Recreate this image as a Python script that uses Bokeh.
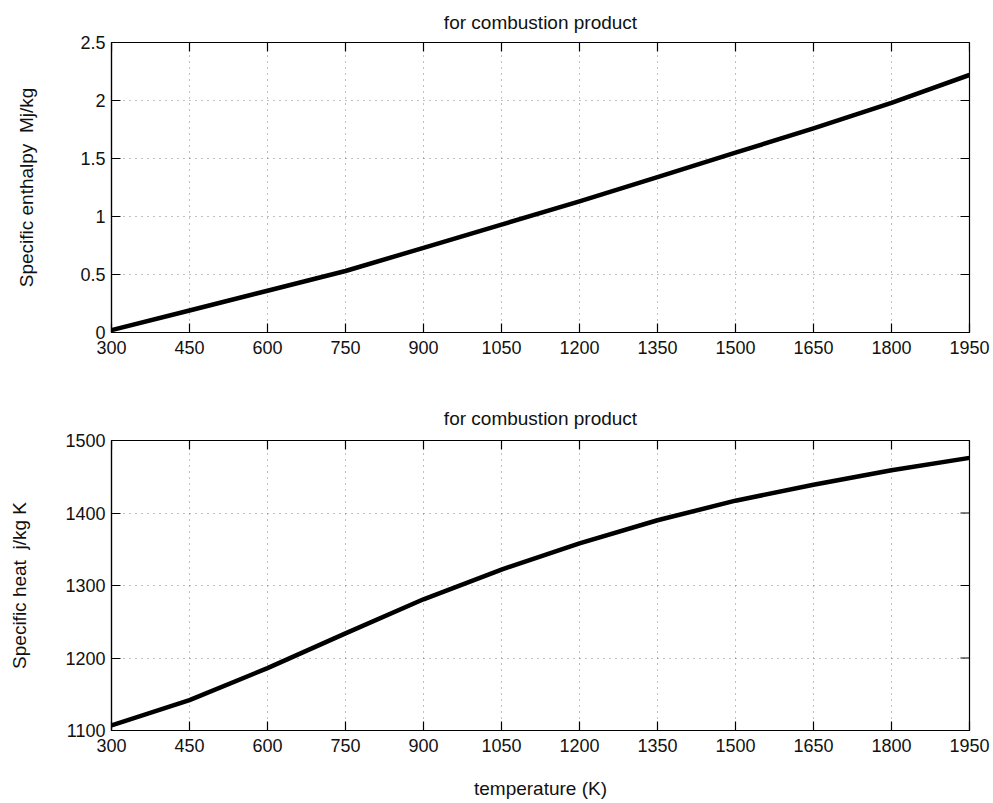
import math
from bokeh.plotting import figure
from bokeh.layouts import column
from bokeh.models import FixedTicker, Range1d
from bokeh.embed import file_html
from bokeh.resources import INLINE

# Temperature grid (K) and tick positions shared by both panels
temperature = [300, 450, 600, 750, 900, 1050, 1200, 1350, 1500, 1650, 1800, 1950]
x_ticks = [300, 450, 600, 750, 900, 1050, 1200, 1350, 1500, 1650, 1800, 1950]

# Specific enthalpy of the combustion product, MJ/kg
enthalpy = [0.02, 0.19, 0.36, 0.53, 0.73, 0.93, 1.13, 1.34, 1.55, 1.76, 1.98, 2.22]
enthalpy_ticks = [0, 0.5, 1, 1.5, 2, 2.5]
enthalpy_tick_labels = ["0", "0.5", "1", "1.5", "2", "2.5"]

# Specific heat of the combustion product, J/kg K
specific_heat = [1107, 1142, 1186, 1234, 1281, 1322, 1358, 1390, 1417, 1439, 1459, 1476]
heat_ticks = [1100, 1200, 1300, 1400, 1500]
heat_tick_labels = ["1100", "1200", "1300", "1400", "1500"]

FONT = "Liberation Sans"
TICK_SIZE = "18px"
LABEL_SIZE = "19px"
INK = "#111111"
W = 993


def style_axis(ax):
    ax.major_tick_in = 9
    ax.major_tick_out = 0
    ax.minor_tick_line_color = None
    ax.axis_line_color = "black"
    ax.axis_line_width = 1.2
    ax.major_tick_line_color = "black"
    ax.major_tick_line_width = 1.2
    ax.major_label_text_font = FONT
    ax.major_label_text_font_size = TICK_SIZE
    ax.major_label_text_color = INK
    ax.axis_label_text_font = FONT
    ax.axis_label_text_font_style = "normal"
    ax.axis_label_text_font_size = LABEL_SIZE
    ax.axis_label_text_color = INK


def panel(y, y_range, y_ticks, y_labels, ylabel, height, top, bottom,
          title_standoff, ylabel_standoff, xlabel=None):
    p = figure(width=W, height=height, output_backend="svg", toolbar_location=None,
               x_range=Range1d(x_ticks[0], x_ticks[-1]), y_range=Range1d(*y_range),
               min_border_left=111, min_border_right=24,
               min_border_top=top, min_border_bottom=bottom,
               background_fill_color="white", border_fill_color="white")
    p.title.text = "for combustion product"
    p.title.align = "center"
    p.title.text_font = FONT
    p.title.text_font_size = LABEL_SIZE
    p.title.text_font_style = "normal"
    p.title.text_color = INK
    p.title.standoff = title_standoff

    p.outline_line_color = "black"
    p.outline_line_width = 1.2

    p.xaxis.ticker = FixedTicker(ticks=x_ticks)
    p.yaxis.ticker = FixedTicker(ticks=y_ticks)
    p.yaxis.major_label_overrides = {t: s for t, s in zip(y_ticks, y_labels)}
    p.xaxis.major_label_overrides = {t: str(t) for t in x_ticks}
    style_axis(p.xaxis[0])
    style_axis(p.yaxis[0])
    p.xaxis.major_label_standoff = 8
    p.yaxis.major_label_standoff = 6
    p.yaxis.axis_label = ylabel
    p.yaxis.axis_label_standoff = ylabel_standoff
    if xlabel:
        p.xaxis.axis_label = xlabel
        p.xaxis.axis_label_standoff = 23

    # dotted grid at every tick
    p.xgrid.ticker = FixedTicker(ticks=x_ticks)
    p.ygrid.ticker = FixedTicker(ticks=y_ticks)
    p.grid.grid_line_color = "#555555"
    p.grid.grid_line_dash = "1 5"
    p.grid.grid_line_width = 1
    p.grid.grid_line_alpha = 0.75

    # inward ticks on the top and right edges of the box (half of each dash is clipped by the frame)
    p.scatter(x=x_ticks, y=[y_range[1]] * len(x_ticks), marker="dash", size=18,
              angle=math.pi / 2, line_color="black", line_width=1.2)
    p.scatter(x=[x_ticks[-1]] * len(y_ticks), y=y_ticks, marker="dash", size=18,
              line_color="black", line_width=1.2)

    p.line(temperature, y, line_color="black", line_width=4.5, line_join="round")
    return p


top = panel(enthalpy, (0, 2.5), enthalpy_ticks, enthalpy_tick_labels,
            "Specific enthalpy \u00a0Mj/kg", 386, 42, 54,
            title_standoff=19, ylabel_standoff=40)
bottom = panel(specific_heat, (1100, 1500), heat_ticks, heat_tick_labels,
               "Specific heat \u00a0j/kg K", 417, 54, 73,
               title_standoff=23, ylabel_standoff=32, xlabel="temperature (K)")

layout = column(top, bottom, spacing=0)
open("out.html", "w").write(file_html(layout, INLINE))
